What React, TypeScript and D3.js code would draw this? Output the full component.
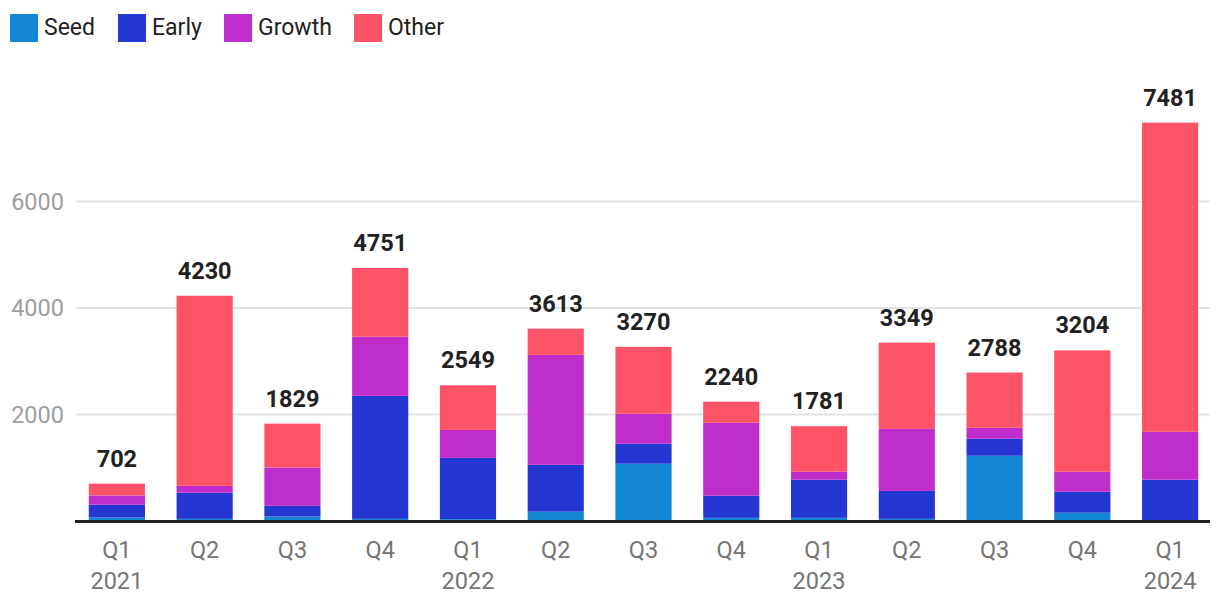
import React from 'react';
import * as d3 from 'd3';

const quarters = ['Q1', 'Q2', 'Q3', 'Q4', 'Q1', 'Q2', 'Q3', 'Q4', 'Q1', 'Q2', 'Q3', 'Q4', 'Q1'];
const years = ['2021', '', '', '', '2022', '', '', '', '2023', '', '', '', '2024'];
const seed = [65, 40, 85, 40, 35, 175, 1075, 60, 60, 40, 1225, 155, 0];
const early = [240, 490, 200, 2310, 1150, 880, 375, 415, 715, 525, 320, 395, 775];
const growth = [175, 130, 720, 1110, 525, 2065, 565, 1370, 150, 1165, 205, 375, 900];
const other = [222, 3570, 824, 1291, 839, 493, 1255, 395, 856, 1619, 1038, 2279, 5806];
const totals = [702, 4230, 1829, 4751, 2549, 3613, 3270, 2240, 1781, 3349, 2788, 3204, 7481];
const yTicks = [2000, 4000, 6000];

const seriesNames = ['Seed', 'Early', 'Growth', 'Other'];
const colors = ['#1288d5', '#2437d3', '#bf2ecb', '#fe5267'];

const W = 1220;
const H = 610;
const font = 'Roboto, sans-serif';

const App = () => {
  const rows = quarters.map((q, i) => ({
    key: String(i),
    Seed: seed[i],
    Early: early[i],
    Growth: growth[i],
    Other: other[i],
  }));

  const stack = d3.stack<any>().keys(seriesNames);
  const layers = stack(rows);

  const x = d3.scaleBand()
    .domain(rows.map(r => r.key))
    .range([73, 1214])
    .paddingInner(0.36)
    .paddingOuter(0.18);

  const y = d3.scaleLinear()
    .domain([0, 2000])
    .range([521, 414.5]);

  // legend positions
  const legendX = [10, 118, 224, 354];

  return (
    <svg width={W} height={H} style={{ position: 'absolute', left: 0, top: 0 }} fontFamily={font}>
      <rect width={W} height={H} fill="#fff" />

      {/* legend */}
      {seriesNames.map((s, i) => (
        <g key={s}>
          <rect x={legendX[i]} y={14} width={28} height={28} fill={colors[i]} />
          <text x={legendX[i] + 34} y={35} fontSize={23} fill="#212121">{s}</text>
        </g>
      ))}

      {/* grid */}
      {yTicks.map(t => (
        <g key={t}>
          <line x1={76} x2={1210} y1={y(t)} y2={y(t)} stroke="#e3e3e3" strokeWidth={2} />
          <text x={64} y={y(t)} dy="0.36em" textAnchor="end" fontSize={23.5} fill="#9e9e9e">{t}</text>
        </g>
      ))}

      {/* bars */}
      {layers.map((layer, li) => (
        <g key={layer.key} fill={colors[li]}>
          {layer.map((d, i) => (
            <rect
              key={i}
              x={x(rows[i].key)}
              width={x.bandwidth()}
              y={y(d[1])}
              height={Math.max(0, y(d[0]) - y(d[1]))}
            />
          ))}
        </g>
      ))}

      {/* totals */}
      {totals.map((t, i) => (
        <text
          key={i}
          x={x(rows[i].key)! + x.bandwidth() / 2}
          y={y(t) - 17}
          textAnchor="middle"
          fontSize={23.5}
          fontWeight="bold"
          fill="#212121"
        >{t}</text>
      ))}

      {/* axis */}
      <line x1={75} x2={1210} y1={521.5} y2={521.5} stroke="#212121" strokeWidth={3} />

      {quarters.map((q, i) => {
        const cx = x(rows[i].key)! + x.bandwidth() / 2;
        return (
          <g key={i} fill="#757575" fontSize={23.5} textAnchor="middle">
            <text x={cx} y={558}>{q}</text>
            {years[i] && <text x={cx} y={589}>{years[i]}</text>}
          </g>
        );
      })}
    </svg>
  );
};

export default App;
